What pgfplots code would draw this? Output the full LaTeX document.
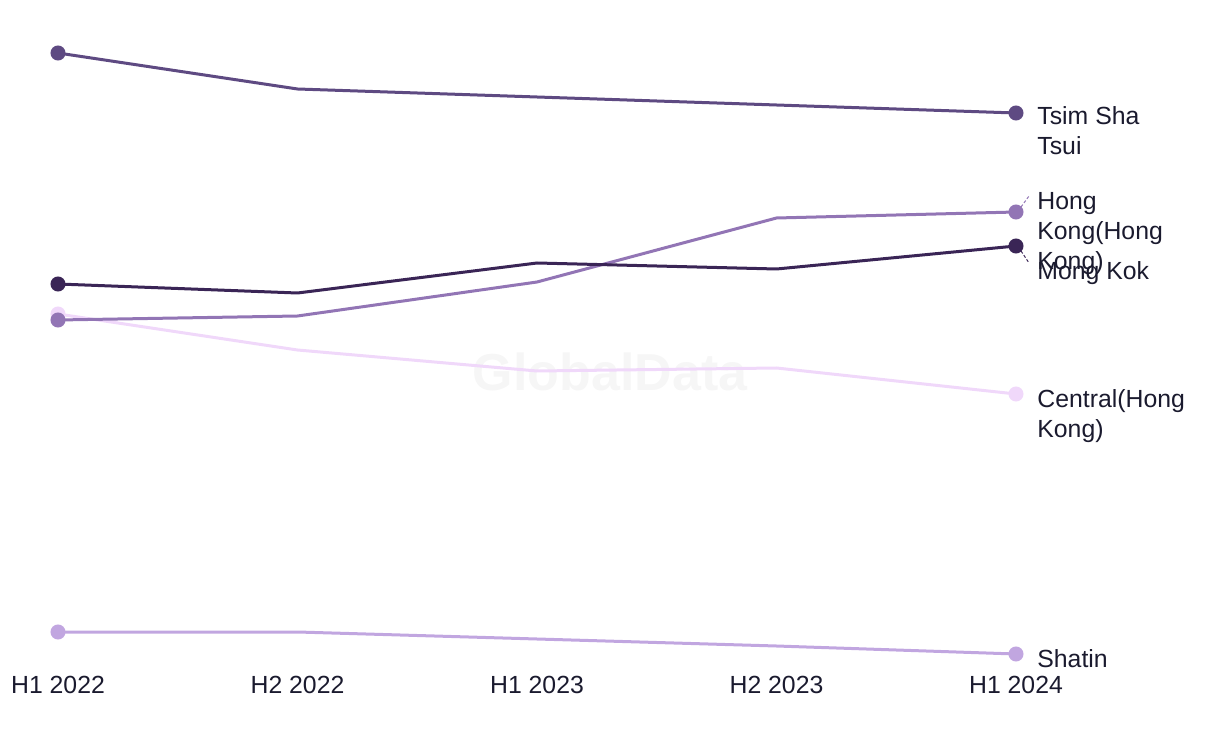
\documentclass[border=0pt]{standalone}
\usepackage{pgfplots}
\pgfplotsset{compat=1.18}
\usepackage{fontspec}
\setmainfont{Liberation Sans}
\definecolor{tst}{HTML}{5E4A82}
\definecolor{hk}{HTML}{9275B5}
\definecolor{mk}{HTML}{3A2556}
\definecolor{cen}{HTML}{F0D8FA}
\definecolor{sha}{HTML}{C1A6E0}
\definecolor{txt}{HTML}{1A1A2E}
\definecolor{wm}{HTML}{F6F6F6}
\begin{document}
\begin{tikzpicture}
\begin{axis}[
  scale only axis, width=610pt, height=372pt,
  xmin=-0.2422, xmax=4.8518, ymin=0, ymax=744,
  clip=false,
  axis line style={draw=none},
  xtick={0,1,2,3,4},
  xticklabels={H1 2022,H2 2022,H1 2023,H2 2023,H1 2024},
  ytick=\empty,
  major tick length=0pt,
  xticklabel style={anchor=center, yshift=29.5pt, font=\fontsize{12.4}{15}\selectfont, text=txt},
  every axis plot/.append style={line width=1.5pt, mark=*, mark size=3pt, mark indices={1,5}, mark options={solid}},
]
\node[text=wm, font=\fontsize{26}{30}\selectfont\bfseries] at (axis cs:2.3048,372) {GlobalData};
\addplot[sha, mark options={fill=sha, draw=sha}] coordinates {(0,112) (1,112) (2,105) (3,98) (4,90)};
\addplot[cen, mark options={fill=cen, draw=cen}] coordinates {(0,430) (1,394) (2,373) (3,376) (4,350)};
\addplot[hk, mark options={fill=hk, draw=hk}] coordinates {(0,424) (1,428) (2,462) (3,526) (4,532)};
\addplot[mk, mark options={fill=mk, draw=mk}] coordinates {(0,460) (1,451) (2,481) (3,475) (4,498)};
\addplot[tst, mark options={fill=tst, draw=tst}] coordinates {(0,691) (1,655) (2,647) (3,639) (4,631)};
\draw[hk, line width=0.5pt, dash pattern=on 1.5pt off 1pt] (axis cs:4.0209,537) -- (axis cs:4.0543,548);
\draw[mk, line width=0.5pt, dash pattern=on 1.5pt off 1pt] (axis cs:4.0209,493) -- (axis cs:4.0543,481);
\begin{scope}[every node/.style={anchor=base west, align=left, text=txt, font=\fontsize{12.4}{15}\selectfont, inner sep=0pt, xshift=10.5pt}]
\node[yshift=-20.75pt] at (axis cs:4,631) {Tsim Sha\\Tsui};
\node[yshift=-28.75pt] at (axis cs:4,532) {Hong\\Kong(Hong\\Kong)};
\node[yshift=-16.75pt] at (axis cs:4,498) {Mong Kok};
\node[yshift=-21.75pt] at (axis cs:4,350) {Central(Hong\\Kong)};
\node[yshift=-6.75pt] at (axis cs:4,90) {Shatin};
\end{scope}
\coordinate (BL) at (axis cs:-0.2422,0);
\coordinate (TR) at (axis cs:4.8518,744);
\end{axis}
\pgfresetboundingbox
\path (BL) rectangle (TR);
\end{tikzpicture}
\end{document}
